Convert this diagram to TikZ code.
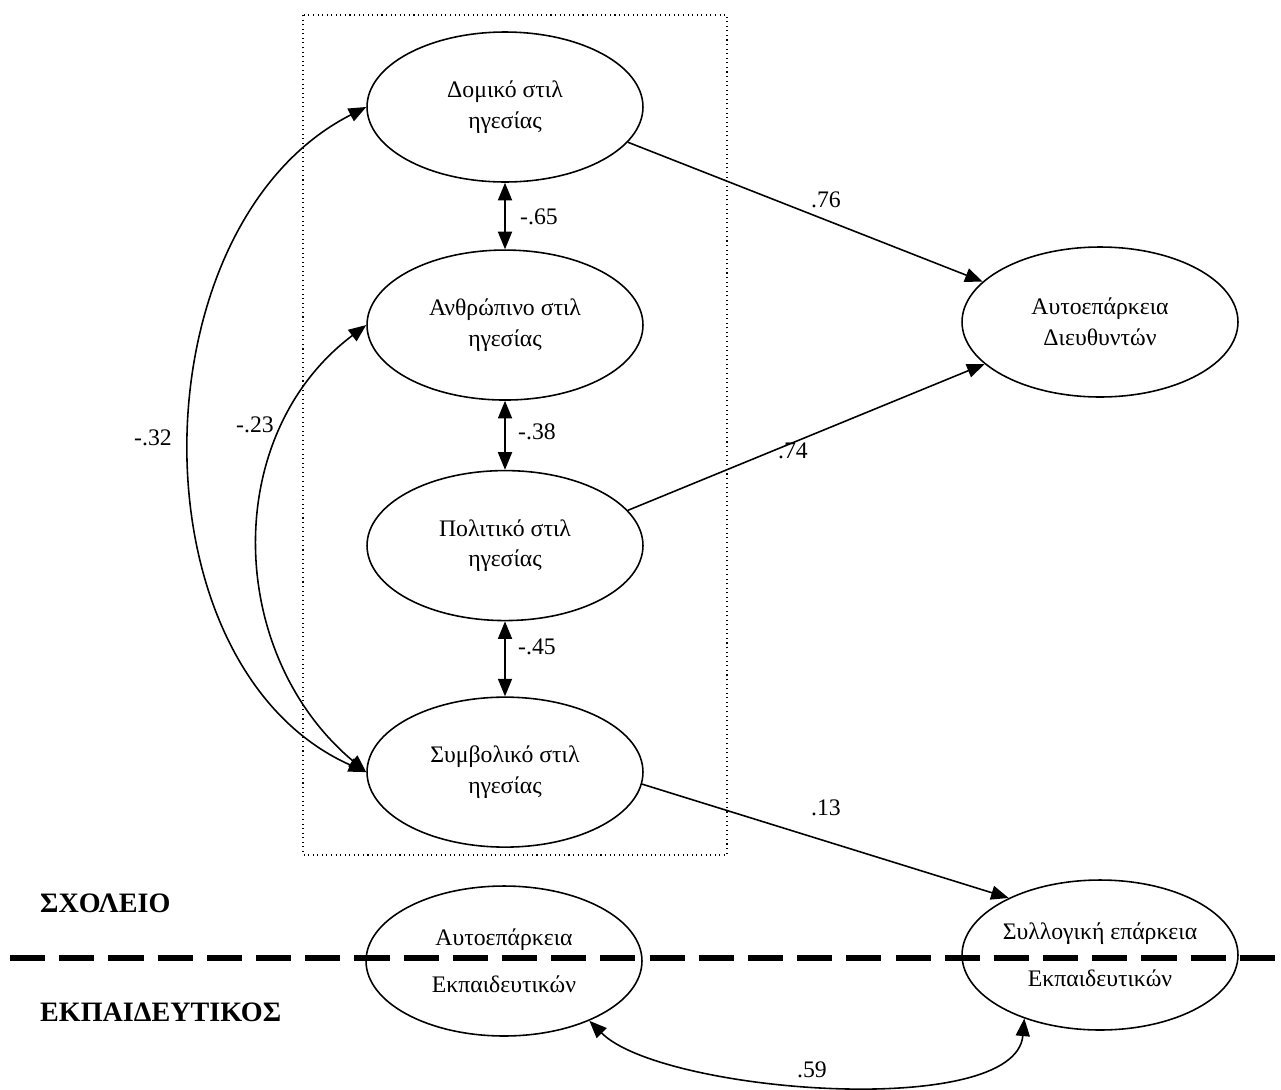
\documentclass[tikz,border=0pt]{standalone}
\usepackage{fontspec}
\setmainfont{Liberation Serif}
\usetikzlibrary{shapes.geometric, arrows.meta, positioning}

\begin{document}
\begin{tikzpicture}[
    x=0.02cm, y=-0.02cm,
    latent/.style={
        ellipse,
        draw=black, line width=0.9pt,
        minimum width=5.52cm,
        minimum height=3cm,
        align=center,
        inner sep=0pt,
        font=\fontsize{13.5}{17.5}\selectfont
    },
    level/.style={
        anchor=west,
        font=\fontsize{16}{18}\selectfont\bfseries
    },
    coef/.style={
        font=\fontsize{13.5}{15}\selectfont
    },
    path_arrow/.style={
        line width=0.9pt, -{Triangle[length=10pt, width=8pt]}
    },
    corr_arrow/.style={
        line width=0.9pt,
        {Triangle[length=10pt, width=8pt]}-{Triangle[length=10pt, width=8pt]}
    }
]
\useasboundingbox (0,0) rectangle (1281,1089);

% leadership styles
\node (dom) [latent] at (505,107) {Δομικό στιλ\\ηγεσίας};
\node (anth) [latent, below=1.33cm of dom] {Ανθρώπινο στιλ\\ηγεσίας};
\node (pol) [latent, below=1.38cm of anth] {Πολιτικό στιλ\\ηγεσίας};
\node (symb) [latent, below=1.5cm of pol] {Συμβολικό στιλ\\ηγεσίας};
\draw [dotted, line width=0.6pt] (303,15) rectangle (727,855);

% outcomes
\node (adir) [latent] at (1100,322) {Αυτοεπάρκεια\\Διευθυντών};
\node (ateach) [latent] at (504,961) {Αυτοεπάρκεια\\[9pt]Εκπαιδευτικών};
\node (coll) [latent] at (1100,955) {Συλλογική επάρκεια\\[9pt]Εκπαιδευτικών};

% levels
\draw [line width=3.2pt, dash pattern=on 20pt off 8pt] (10,958) -- (1281,958);
\node (school) [level] at (34,903) {ΣΧΟΛΕΙΟ};
\node (teacher) [level] at (34,1012) {ΕΚΠΑΙΔΕΥΤΙΚΟΣ};

% correlations
\draw [corr_arrow] (dom) -- (anth);
\draw [corr_arrow] (anth) -- (pol);
\draw [corr_arrow] (pol) -- (symb);
\draw [corr_arrow] (dom.west) to[out=207, in=156] (symb.west);
\draw [corr_arrow] (anth.west) to[out=217, in=140, looseness=1.05] (symb.west);
\draw [corr_arrow] (ateach.-35) to[out=-45, in=-95, looseness=0.6] (coll.220);

% paths
\draw [path_arrow] (dom.-16) -- (adir.161);
\draw [path_arrow] (pol.16) -- (adir.200);
\draw [path_arrow] (symb.-5) -- (coll.148);

% coefficients
\node (c65) [coef] at (539,217) {-.65};
\node (c38) [coef] at (537,432) {-.38};
\node (c45) [coef] at (537,647) {-.45};
\node (c32) [coef] at (153,438) {-.32};
\node (c23) [coef] at (255,425) {-.23};
\node (c76) [coef] at (826,200) {.76};
\node (c74) [coef] at (793,451) {.74};
\node (c13) [coef] at (826,808) {.13};
\node (c59) [coef] at (812,1070) {.59};

\end{tikzpicture}
\end{document}
